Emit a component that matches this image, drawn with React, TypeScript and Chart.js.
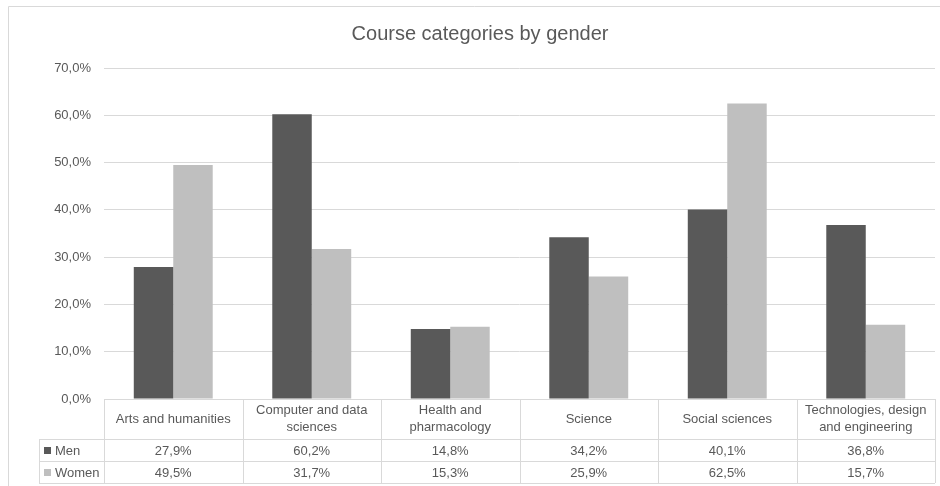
import React, { useEffect, useRef } from "react";
import { Chart, registerables } from "chart.js";

Chart.register(...registerables);

const TITLE = "Course categories by gender";
const categories: (string | string[])[] = [
  "Arts and humanities",
  ["Computer and data", "sciences"],
  ["Health and", "pharmacology"],
  "Science",
  "Social sciences",
  ["Technologies, design", "and engineering"],
];
const seriesNames = ["Men", "Women"];
const menValues = [27.9, 60.2, 14.8, 34.2, 40.1, 36.8];
const womenValues = [49.5, 31.7, 15.3, 25.9, 62.5, 15.7];
const seriesColors = ["#595959", "#bfbfbf"];

const FONT = "'Liberation Sans', Arial, Helvetica, sans-serif";
const TEXT = "#595959";
const LINE = "#d9d9d9";

const fmt = (v: number) => v.toFixed(1).replace(".", ",") + "%";

const tablePlugin = {
  id: "dataTable",
  afterDraw(chart: any) {
    const ctx = chart.ctx as CanvasRenderingContext2D;
    const area = chart.chartArea;
    const n = categories.length;
    const colW = (area.right - area.left) / n;
    const top = area.bottom;
    const headBottom = top + 40;
    const row1Bottom = headBottom + 22;
    const row2Bottom = row1Bottom + 22;
    const legendLeft = 39;

    ctx.save();
    // frame
    ctx.strokeStyle = LINE;
    ctx.lineWidth = 1;
    ctx.beginPath();
    ctx.moveTo(8.5, chart.height);
    ctx.lineTo(8.5, 6.5);
    ctx.lineTo(chart.width, 6.5);
    ctx.stroke();

    // title
    ctx.fillStyle = TEXT;
    ctx.font = `20px ${FONT}`;
    ctx.textAlign = "center";
    ctx.textBaseline = "alphabetic";
    ctx.fillText(TITLE, 480, 40);

    // table lines
    ctx.strokeStyle = LINE;
    ctx.beginPath();
    ctx.moveTo(area.left, top + 0.5);
    ctx.lineTo(area.right, top + 0.5);
    [headBottom, row1Bottom, row2Bottom].forEach((y) => {
      ctx.moveTo(legendLeft, y + 0.5);
      ctx.lineTo(area.right, y + 0.5);
    });
    for (let i = 0; i <= n; i++) {
      const x = Math.round(area.left + i * colW) + 0.5;
      ctx.moveTo(x, top);
      ctx.lineTo(x, row2Bottom);
    }
    ctx.moveTo(legendLeft + 0.5, headBottom);
    ctx.lineTo(legendLeft + 0.5, row2Bottom);
    ctx.stroke();

    // header labels
    ctx.font = `13px ${FONT}`;
    ctx.fillStyle = TEXT;
    ctx.textAlign = "center";
    ctx.textBaseline = "middle";
    const headMid = (top + headBottom) / 2;
    categories.forEach((c, i) => {
      const cx = chart.scales.x.getPixelForValue(i);
      const lines = Array.isArray(c) ? c : [c];
      const lh = 17;
      lines.forEach((l, j) => {
        ctx.fillText(l, cx, headMid + (j - (lines.length - 1) / 2) * lh);
      });
    });

    // rows
    const rows = [menValues, womenValues];
    const rowMids = [(headBottom + row1Bottom) / 2, (row1Bottom + row2Bottom) / 2];
    rows.forEach((vals, r) => {
      const y = rowMids[r] + 1;
      vals.forEach((v, i) => {
        const cx = chart.scales.x.getPixelForValue(i);
        ctx.fillStyle = TEXT;
        ctx.textAlign = "center";
        ctx.fillText(fmt(v), cx, y);
      });
      ctx.fillStyle = seriesColors[r];
      ctx.fillRect(44, Math.round(rowMids[r]) - 3, 7, 7);
      ctx.fillStyle = TEXT;
      ctx.textAlign = "left";
      ctx.fillText(seriesNames[r], 55, y);
    });
    ctx.restore();
  },
};

export default function App() {
  const ref = useRef<HTMLCanvasElement | null>(null);
  useEffect(() => {
    if (!ref.current) return;
    const chart = new Chart(ref.current, {
      type: "bar",
      data: {
        labels: categories as any,
        datasets: [
          {
            label: seriesNames[0],
            data: menValues,
            backgroundColor: seriesColors[0],
            barPercentage: 1,
            categoryPercentage: 0.57,
          },
          {
            label: seriesNames[1],
            data: womenValues,
            backgroundColor: seriesColors[1],
            barPercentage: 1,
            categoryPercentage: 0.57,
          },
        ],
      },
      options: {
        animation: false,
        responsive: true,
        maintainAspectRatio: false,
        layout: { padding: { top: 68, right: 5, bottom: 87, left: 0 } },
        plugins: {
          legend: { display: false },
          title: { display: false },
          tooltip: { enabled: false },
        },
        scales: {
          x: { display: false },
          y: {
            min: 0,
            max: 70,
            afterFit: (s: any) => {
              s.width = 104;
            },
            ticks: {
              stepSize: 10,
              padding: 13,
              color: TEXT,
              font: { family: FONT, size: 13 },
              callback: (v: any) => fmt(Number(v)),
            },
            grid: { color: LINE, drawTicks: false },
            border: { display: false },
          },
        },
      },
      plugins: [tablePlugin],
    });
    return () => chart.destroy();
  }, []);
  return (
    <div style={{ position: "absolute", left: 0, top: 0, width: 940, height: 486, background: "#fff" }}>
      <canvas ref={ref} />
    </div>
  );
}
